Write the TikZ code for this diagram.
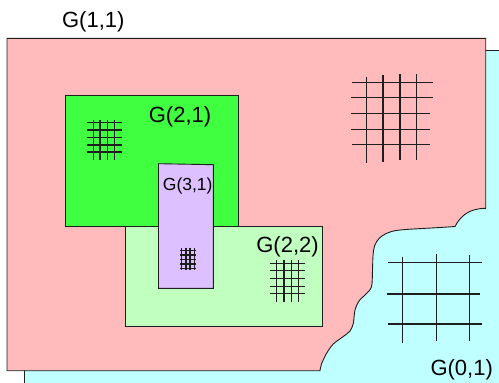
\documentclass[tikz,border=0pt]{standalone}
\usepackage{fontspec}
\setmainfont{Liberation Sans}
\definecolor{pinkfill}{RGB}{255,187,187}
\definecolor{cyanfill}{RGB}{192,255,255}
\definecolor{greenfill}{RGB}{64,255,64}
\definecolor{lgreenfill}{RGB}{192,255,192}
\definecolor{purplefill}{RGB}{221,192,255}
\definecolor{edge}{RGB}{30,30,30}
\tikzset{
  region/.style={draw=edge, line width=0.9pt},
  gridbig/.style={draw=edge, line width=1.3pt},
  gridsmall/.style={draw=edge, line width=1.1pt},
  biglabel/.style={inner sep=0pt, anchor=base, font=\fontsize{22}{24}\selectfont},
  smalllabel/.style={inner sep=0pt, anchor=base, font=\fontsize{17.5}{19}\selectfont}
}
\begin{document}
\begin{tikzpicture}[x=1pt, y=-1pt]
\useasboundingbox (0,0) rectangle (499,383);
\begin{scope}
\clip (0,0) rectangle (499,383);
% G(0,1) background region
\path[region, fill=cyanfill] (24.3,50.7) rectangle (510,395);
% G(1,1) region with wavy corner
\path[region, fill=pinkfill] (7,38.3) -- (485.7,38.3) -- (485.7,208.3)
  .. controls (470,208.5) and (461,215) .. (455,226.5)
  -- plot[smooth, tension=0.55] coordinates {(455,226.5) (440,227.5) (400,230) (386.7,233.3) (379,238.5) (374.5,246) (373,256) (372.5,270) (371.5,286.7) (366,294) (359,301) (355,310) (353.3,323.3) (350,331) (343,336.7) (333.3,344) (326.5,353.5) (321.5,364) (320,370.7)}
  -- (7,370.7) -- cycle;
\end{scope}
% G(2,1)
\path[region, fill=greenfill] (65.7,95.3) rectangle (238.7,226);
% G(2,2)
\path[region, fill=lgreenfill] (125,226) rectangle (322.7,326);
% G(3,1)
\path[region, fill=purplefill] (158.5,163.7) -- (213.3,164.7) -- (213.3,288.3) -- (158.5,288.3) -- cycle;

% grid in G(1,1)
\foreach \x/\a/\b in {366.7/76.7/162.7, 383/75.3/161.5, 400/74/160.3, 416.3/74/160}
  \draw[gridbig] (\x,\a) -- (\x,\b);
\foreach \y/\a/\b in {82.5/352/433.3, 97.7/351/433.3, 113.5/351/430, 129.3/351/430, 144.7/352/430}
  \draw[gridbig] (\a,\y) -- (\b,\y);
% grid in G(0,1)
\foreach \x/\a/\b in {402.7/257.3/343.3, 436.7/254/340.7, 469.3/255/340.7}
  \draw[gridbig] (\x,\a) -- (\x,\b);
\foreach \y/\a/\b in {262.7/387.7/481.7, 294/387.3/480, 324/387.7/481.7}
  \draw[gridbig] (\a,\y) -- (\b,\y);
% grid in G(2,1)
\foreach \x in {93.3,100,107.3,114.3}
  \draw[gridsmall] (\x,119.5) -- (\x,160);
\foreach \y in {122.5,130,137.5,145,152}
  \draw[gridsmall] (86.7,\y) -- (122,\y);
% grid in G(2,2)
\foreach \x in {276.7,284,291.2,298.3}
  \draw[gridsmall] (\x,260) -- (\x,301.7);
\foreach \y in {263.3,270.7,278.3,286.3,293.3}
  \draw[gridsmall] (269.5,\y) -- (305,\y);
% grid in G(3,1)
\foreach \x in {181.7,186,190,194.3}
  \draw[gridsmall] (\x,247.5) -- (\x,270.3);
\foreach \y in {250.5,255,259.5,264,268.3}
  \draw[gridsmall] (180,\y) -- (196,\y);

% labels
\node[biglabel] (l11) at (93.3,27) {G(1,1)};
\node[biglabel] (l21) at (180,122.3) {G(2,1)};
\node[biglabel] (l22) at (287.5,252) {G(2,2)};
\node[biglabel] (l01) at (461.7,375) {G(0,1)};
\node[smalllabel] (l31) at (187.7,190.5) {G(3,1)};
\end{tikzpicture}
\end{document}
